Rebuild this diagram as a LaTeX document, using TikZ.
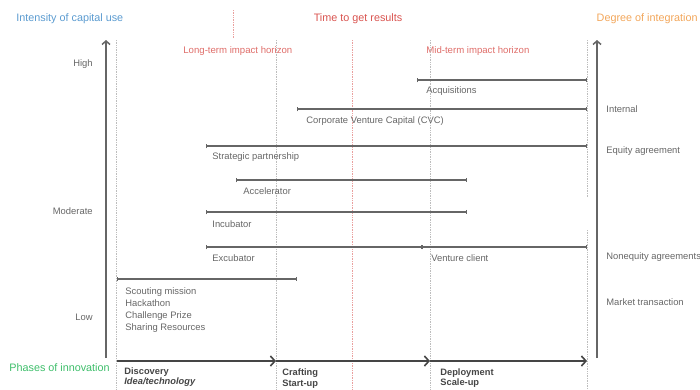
\documentclass[tikz,border=0pt]{standalone}
\usepackage{fontspec}
\setmainfont{Liberation Sans}
\usetikzlibrary{arrows.meta,positioning}
\definecolor{ink}{HTML}{454545}
\definecolor{muted}{HTML}{666666}
\definecolor{guide}{HTML}{BDBDBD}
\definecolor{capblue}{HTML}{5B9BD0}
\definecolor{timered}{HTML}{D9534F}
\definecolor{intorange}{HTML}{F2A65A}
\definecolor{phgreen}{HTML}{3DBE6A}

\begin{document}
\begin{tikzpicture}[x=1pt,y=-1pt,line width=.8pt]
      \tikzset{
        ttl/.style={font=\fontsize{10.8}{12}\selectfont,inner sep=0pt},
        sub/.style={font=\fontsize{9.6}{11}\selectfont,text=timered!85,inner sep=0pt},
        lbl/.style={font=\fontsize{9.4}{11}\selectfont,text=muted,anchor=west,inner sep=0pt},
        lvl/.style={font=\fontsize{9.4}{11}\selectfont,text=muted,anchor=east,inner sep=0pt},
        phase/.style={font=\fontsize{9.3}{10.8}\selectfont\bfseries,text=ink,anchor=north west,
            align=left,inner sep=0pt},
        bar/.style={{Bar[width=4.5pt]}-{Bar[width=4.5pt]},draw=muted,line width=1.2pt},
        axis/.style={-{Straight Barb[length=3.5pt,width=8pt]},draw=muted,line width=1.5pt},
        flow/.style={-{Straight Barb[length=4.5pt,width=10pt]},draw=ink,line width=1.6pt},
        vline/.style={draw=guide,densely dotted,line width=.7pt},
        rline/.style={draw=timered!55,densely dotted,line width=.7pt}
      }
      \useasboundingbox (0,0) rectangle (700,389);

      % titles
      \node[ttl,text=capblue,anchor=west] (capt) at (16,19) {Intensity of capital use};
      \node[ttl,text=timered] (timet) at (358,19) {Time to get results};
      \node[ttl,text=intorange,anchor=east] (intt) at (698,19) {Degree of integration};
      \node[ttl,text=phgreen,anchor=west] (pht) at (9,368) {Phases of innovation};
      \node[sub,anchor=west] (longh) at (183,51) {Long-term impact horizon};
      \node[sub,anchor=west] (midh) at (426,51) {Mid-term impact horizon};

      % guide lines
      \foreach \x in {116,276,430}{
          \draw[vline] (\x,40)--(\x,389);
        }
      \draw[vline] (587,40)--(587,198);
      \draw[vline] (587,230)--(587,389);
      \draw[rline] (233,10)--(233,38);
      \draw[rline] (352,40)--(352,389);

      % axes
      \coordinate (yb) at (106,358);
      \coordinate (yt) at (106,40);
      \coordinate (zb) at (597,358);
      \coordinate (zt) at (597,40);
      \draw[axis] (yb)--(yt);
      \draw[axis] (zb)--(zt);
      \node[lvl] (high) at (93,64) {High};
      \node[lvl] (mod) at (93,211) {Moderate};
      \node[lvl] (low) at (93,317) {Low};
      \node[lbl] (inter) at (606,109) {Internal};
      \node[lbl] (eq) at (606,151) {Equity agreement};
      \node[lbl] (neq) at (606,257) {Nonequity agreements};
      \node[lbl] (mkt) at (606,302) {Market transaction};

      % instruments
      \coordinate (acqL) at (417,80);   \coordinate (acqR) at (587,80);
      \coordinate (cvcL) at (297,109);  \coordinate (cvcR) at (587,109);
      \coordinate (spL) at (206,146);   \coordinate (spR) at (587,146);
      \coordinate (accL) at (236,180);  \coordinate (accR) at (467,180);
      \coordinate (incL) at (206,212);  \coordinate (incR) at (467,212);
      \coordinate (excL) at (206,247);  \coordinate (vcL) at (422,247);
      \coordinate (excR) at (587,247);
      \coordinate (scL) at (117,279);   \coordinate (scR) at (297,279);

      \draw[bar] (acqL)--(acqR);
      \draw[bar] (cvcL)--(cvcR);
      \draw[bar] (spL)--(spR);
      \draw[bar] (accL)--(accR);
      \draw[bar] (incL)--(incR);
      \draw[bar] (excL)--(vcL);
      \draw[bar] (vcL)--(excR);
      \draw[bar] (scL)--(scR);

      \node[lbl] (acq) at (426,91) {Acquisitions};
      \node[lbl] (cvc) at (306,121) {Corporate Venture Capital (CVC)};
      \node[lbl] (sp) at (212,157) {Strategic partnership};
      \node[lbl] (acc) at (243,191) {Accelerator};
      \node[lbl] (inc) at (212,224) {Incubator};
      \node[lbl] (exc) at (212,258) {Excubator};
      \node[lbl] (vc) at (431,258) {Venture client};
      \node[lbl,anchor=north west,align=left,font=\fontsize{9.4}{12}\selectfont]
        (scout) at (125,287.5) {Scouting mission\\Hackathon\\Challenge Prize\\Sharing Resources};

      % phases
      \coordinate (p0) at (117,361);
      \coordinate (p1) at (276,361);
      \coordinate (p2) at (430,361);
      \coordinate (p3) at (587,361);
      \draw[flow] (p0)--(p1);
      \draw[flow] (p1)--(p2);
      \draw[flow] (p2)--(p3);
      \node[phase] (disc) at (124,367) {Discovery\\\itshape Idea/technology};
      \node[phase] (craft) at (282,368.5) {Crafting\\Start-up};
      \node[phase] (depl) at (440,368) {Deployment\\Scale-up};
    \end{tikzpicture}
\end{document}
